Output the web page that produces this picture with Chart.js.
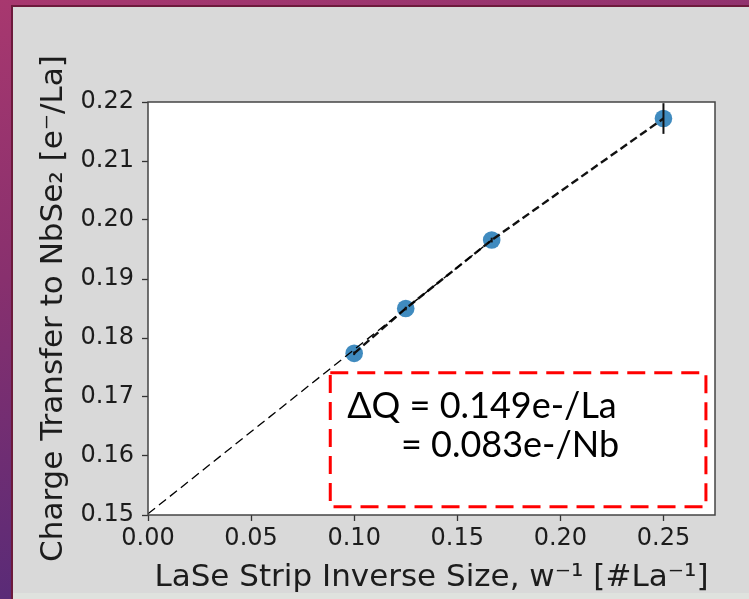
<!DOCTYPE html>
<html>
<head>
<meta charset="utf-8">
<script src="https://cdn.jsdelivr.net/npm/chart.js@4.4.1/dist/chart.umd.min.js"></script>
<style>
  html, body { margin: 0; padding: 0; }
  body {
    width: 749px; height: 599px; position: relative; overflow: hidden;
    background: linear-gradient(165deg, #a8386f 0%, #88306e 35%, #5a2b77 75%, #46297a 100%);
  }
  #panel {
    position: absolute; left: 11px; top: 5px; right: 0; bottom: 0;
    background: #d9d9d9;
    border-left: 2px solid #6d1a3c; border-top: 2px solid #6d1a3c;
  }
  #strip { position: absolute; left: 13px; right: 0; bottom: 0; height: 6px; background: #dfe2de; }
  canvas { position: absolute; left: 0; top: 0; }
</style>
</head>
<body>
<div id="panel"></div>
<div id="strip"></div>
<canvas id="chart" width="749" height="599"></canvas>
<script>
// strip inverse size w^-1 (1/10, 1/8, 1/6, 1/4) and charge transfer per La
const stripInvSize   = [0.1, 0.125, 0.1667, 0.25];
const chargeTransfer = [0.1774, 0.1850, 0.1966, 0.2172];
const chargeErr      = [0.0003, 0.0003, 0.0004, 0.0026];

// thin extrapolation line down to w^-1 = 0
const extrapX = [0, 0.1667];
const extrapY = [0.1502, 0.1966];

const xTickValues = [0.00, 0.05, 0.10, 0.15, 0.20, 0.25];
const yTickValues = [0.15, 0.16, 0.17, 0.18, 0.19, 0.20, 0.21, 0.22];

const noteLines = ['ΔQ = 0.149e-/La', '= 0.083e-/Nb'];

const INK = '#1c1c1c';
const TICK_FONT = { family: "'DejaVu Sans', sans-serif", size: 24 };
const TITLE_FONT = { family: "'DejaVu Sans', sans-serif", size: 31 };

const toPoints = (xs, ys) => xs.map((x, i) => ({ x, y: ys[i] }));

// white plot area + full box frame (matplotlib spines)
const plotFrame = {
  id: 'plotFrame',
  beforeDraw(chart) {
    const { ctx, chartArea: a } = chart;
    ctx.save();
    ctx.fillStyle = '#ffffff';
    ctx.fillRect(a.left, a.top, a.right - a.left, a.bottom - a.top);
    ctx.restore();
  },
  afterDraw(chart) {
    const { ctx, chartArea: a } = chart;
    ctx.save();
    ctx.strokeStyle = '#444';
    ctx.lineWidth = 1.5;
    ctx.strokeRect(a.left, a.top, a.right - a.left, a.bottom - a.top);
    ctx.restore();
  }
};

// vertical error bars from chargeErr
const errorBars = {
  id: 'errorBars',
  afterDatasetsDraw(chart) {
    const { ctx, scales: { x, y } } = chart;
    ctx.save();
    ctx.strokeStyle = '#111';
    ctx.lineWidth = 2;
    stripInvSize.forEach((v, i) => {
      const px = x.getPixelForValue(v);
      ctx.beginPath();
      ctx.moveTo(px, y.getPixelForValue(chargeTransfer[i] - chargeErr[i]));
      ctx.lineTo(px, y.getPixelForValue(chargeTransfer[i] + chargeErr[i]));
      ctx.stroke();
    });
    ctx.restore();
  }
};

// red dashed callout box with the ΔQ note
const callout = {
  id: 'callout',
  afterDraw(chart, args, opts) {
    const { ctx, scales: { x, y } } = chart;
    const x0 = x.getPixelForValue(opts.box[0]), x1 = x.getPixelForValue(opts.box[2]);
    const y0 = y.getPixelForValue(opts.box[3]), y1 = y.getPixelForValue(opts.box[1]);
    ctx.save();
    ctx.strokeStyle = '#ff0000';
    ctx.lineWidth = 3;
    ctx.setLineDash([18, 9]);
    ctx.strokeRect(x0, y0, x1 - x0, y1 - y0);
    ctx.setLineDash([]);
    ctx.fillStyle = '#000';
    ctx.font = "36px Lato, 'Open Sans', sans-serif";
    ctx.textBaseline = 'alphabetic';
    noteLines.forEach((t, i) => {
      ctx.fillText(t, x.getPixelForValue(opts.textAt[i][0]), y.getPixelForValue(opts.textAt[i][1]));
    });
    ctx.restore();
  }
};

new Chart(document.getElementById('chart'), {
  type: 'scatter',
  data: {
    datasets: [
      {
        label: 'extrapolation',
        data: toPoints(extrapX, extrapY),
        showLine: true,
        borderColor: '#000',
        borderWidth: 1.3,
        borderDash: [9, 5],
        pointRadius: 0,
        order: 0,
      },
      {
        label: 'fit',
        data: toPoints(stripInvSize, chargeTransfer),
        showLine: true,
        borderColor: '#111',
        borderWidth: 2.4,
        borderDash: [8, 4],
        pointRadius: 0,
        order: 1,
      },
      {
        label: 'DFT',
        data: toPoints(stripInvSize, chargeTransfer),
        backgroundColor: 'rgba(31, 119, 180, 0.85)',
        borderWidth: 0,
        pointRadius: 8.8,
        order: 2,
      }
    ]
  },
  options: {
    responsive: false,
    animation: false,
    events: [],
    layout: { padding: { left: 15, top: 102, right: 34, bottom: 0 } },
    plugins: {
      legend: { display: false },
      tooltip: { enabled: false },
      callout: {
        box: [0.0884, 0.1514, 0.2706, 0.1741],
        textAt: [[0.0966, 0.1665], [0.1227, 0.1599]],
      }
    },
    scales: {
      x: {
        type: 'linear',
        min: 0,
        max: 0.275,
        afterBuildTicks: (s) => { s.ticks = xTickValues.map(v => ({ value: v })); },
        afterFit: (s) => { s.height = 84; },
        ticks: {
          color: INK,
          font: TICK_FONT,
          padding: 3,
          maxRotation: 0,
          autoSkip: false,
          callback: (v) => Number(v).toFixed(2),
        },
        grid: { drawOnChartArea: false, drawTicks: true, tickLength: 6, tickWidth: 1.3, tickColor: '#333' },
        border: { display: false },
        title: {
          display: true,
          text: 'LaSe Strip Inverse Size, w⁻¹ [#La⁻¹]',
          color: INK,
          font: TITLE_FONT,
          padding: { top: 0, bottom: 2 },
        }
      },
      y: {
        type: 'linear',
        min: 0.15,
        max: 0.22,
        afterBuildTicks: (s) => { s.ticks = yTickValues.map(v => ({ value: v })); },
        afterFit: (s) => { s.width = 133; },
        ticks: {
          color: INK,
          font: TICK_FONT,
          padding: 8,
          autoSkip: false,
          callback: (v) => Number(v).toFixed(2),
        },
        grid: { drawOnChartArea: false, drawTicks: true, tickLength: 6, tickWidth: 1.3, tickColor: '#333' },
        border: { display: false },
        title: {
          display: true,
          text: 'Charge Transfer to NbSe₂ [e⁻/La]',
          color: INK,
          font: TITLE_FONT,
          padding: { top: 20, bottom: 0 },
        }
      }
    }
  },
  plugins: [plotFrame, errorBars, callout]
});
</script>
</body>
</html>
